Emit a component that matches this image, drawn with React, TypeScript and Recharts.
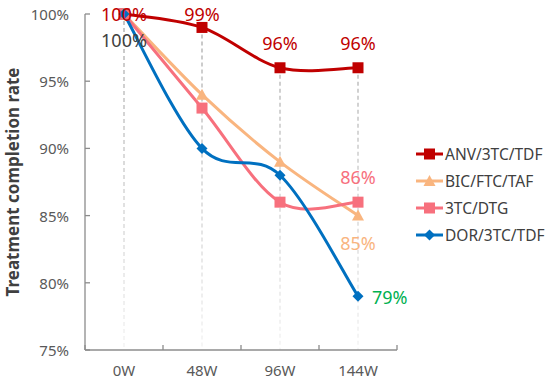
import React from 'react'
import { LineChart, Line, XAxis, YAxis, ReferenceLine, LabelList } from 'recharts'

const weeks = ['0W', '48W', '96W', '144W']
const anv = [100, 99, 96, 96]
const bic = [100, 94, 89, 85]
const dtg = [100, 93, 86, 86]
const dor = [100, 90, 88, 79]
const yTicks = [75, 80, 85, 90, 95, 100]
const xTicks = [-0.5, 0, 0.5, 1, 1.5, 2, 2.5, 3, 3.5]

const series = [
  { key: 'anv', name: 'ANV/3TC/TDF', color: '#c00000', shape: 'square' },
  { key: 'bic', name: 'BIC/FTC/TAF', color: '#f9b57f', shape: 'triangle' },
  { key: 'dtg', name: '3TC/DTG', color: '#f7707d', shape: 'square' },
  { key: 'dor', name: 'DOR/3TC/TDF', color: '#0070c0', shape: 'diamond' },
]

const data = weeks.map((week, i) => ({
  x: i,
  week,
  anv: anv[i],
  bic: bic[i],
  dtg: dtg[i],
  dor: dor[i],
}))

const font = '"Noto Sans", "Open Sans", sans-serif'
const textGray = '#595959'

// Excel-like smoothed line (Catmull-Rom as bezier)
const smoothCurve = (context: any) => {
  let pts: number[][] = []
  return {
    areaStart() {},
    areaEnd() {},
    lineStart() {
      pts = []
    },
    point(x: number, y: number) {
      pts.push([+x, +y])
    },
    lineEnd() {
      const n = pts.length
      if (!n) return
      context.moveTo(pts[0][0], pts[0][1])
      for (let i = 0; i < n - 1; i++) {
        const p0 = pts[Math.max(i - 1, 0)]
        const p1 = pts[i]
        const p2 = pts[i + 1]
        const p3 = pts[Math.min(i + 2, n - 1)]
        context.bezierCurveTo(
          p1[0] + (p2[0] - p0[0]) / 6,
          p1[1] + (p2[1] - p0[1]) / 6,
          p2[0] - (p3[0] - p1[0]) / 6,
          p2[1] - (p3[1] - p1[1]) / 6,
          p2[0],
          p2[1]
        )
      }
    },
  }
}

function Marker({ cx, cy, shape, color }: { cx: number; cy: number; shape: string; color: string }) {
  if (shape === 'square') {
    return <rect x={cx - 5.5} y={cy - 5.5} width={11} height={11} fill={color} />
  }
  if (shape === 'triangle') {
    return <polygon points={`${cx},${cy - 6} ${cx + 6},${cy + 5} ${cx - 6},${cy + 5}`} fill={color} />
  }
  return <polygon points={`${cx},${cy - 5.5} ${cx + 5.5},${cy} ${cx},${cy + 5.5} ${cx - 5.5},${cy}`} fill={color} />
}

const makeDot = (shape: string, color: string) => (p: any) => (
  <Marker key={`dot-${p.index}`} cx={p.cx} cy={p.cy} shape={shape} color={color} />
)

const XTick = (p: any) => {
  const v = p.payload.value
  if (Number.isInteger(v)) {
    return (
      <text x={p.x} y={p.y + 20} textAnchor="middle" dominantBaseline="central" fill={textGray} fontSize={15} fontFamily={font}>
        {weeks[v]}
      </text>
    )
  }
  return <line x1={p.x} x2={p.x} y1={p.y} y2={p.y - 5} stroke="#8c8c8c" strokeWidth={1.3} />
}

const YTick = (p: any) => (
  <g>
    <line x1={p.x} x2={p.x + 5} y1={p.y} y2={p.y} stroke="#8c8c8c" strokeWidth={1.3} />
    <text x={p.x - 16} y={p.y} textAnchor="end" dominantBaseline="central" fill={textGray} fontSize={15} fontFamily={font}>
      {p.payload.value}%
    </text>
  </g>
)

const pct = (v: number) => `${v}%`

const labelText = (x: number, y: number, v: number, color: string, anchor = 'middle') => (
  <text x={x} y={y} textAnchor={anchor} dominantBaseline="central" fill={color} fontSize={18} fontFamily={font}>
    {pct(v)}
  </text>
)

export default function App() {
  return (
    <div style={{ position: 'absolute', left: 0, top: 0, width: 554, height: 383, background: '#fff' }}>
      <LineChart width={554} height={383} data={data} margin={{ top: 14, right: 157, bottom: 0, left: 8 }}>
        <defs>
          <linearGradient id="dropGrad" gradientUnits="userSpaceOnUse" x1="0" y1="14" x2="0" y2="350">
            <stop offset="0%" stopColor="#a6a6a6" />
            <stop offset="100%" stopColor="#f2f2f2" />
          </linearGradient>
        </defs>
        <XAxis
          dataKey="x"
          type="number"
          domain={[-0.5, 3.5]}
          ticks={xTicks}
          interval={0}
          height={33}
          tickSize={0}
          tickMargin={0}
          tickLine={false}
          tick={<XTick />}
          axisLine={{ stroke: '#8c8c8c', strokeWidth: 1.3 }}
        />
        <YAxis
          type="number"
          domain={[75, 100]}
          ticks={yTicks}
          interval={0}
          width={77}
          tickSize={0}
          tickMargin={0}
          tickLine={false}
          tick={<YTick />}
          axisLine={{ stroke: '#8c8c8c', strokeWidth: 1.3 }}
          label={{
            content: (p: any) => {
              const vb = p.viewBox
              const cx = vb.x + 4
              const cy = vb.y + vb.height / 2
              return (
                <text
                  x={cx}
                  y={cy}
                  transform={`rotate(-90, ${cx}, ${cy})`}
                  textAnchor="middle"
                  dominantBaseline="central"
                  fill="#404040"
                  fontSize={17}
                  fontWeight="bold"
                  fontFamily={font}
                >
                  Treatment completion rate
                </text>
              )
            },
          }}
        />
        {data.map((d) => (
          <ReferenceLine
            key={`drop-${d.x}`}
            segment={[
              { x: d.x, y: d.anv },
              { x: d.x, y: 75 },
            ]}
            stroke="url(#dropGrad)"
            strokeWidth={1.3}
            strokeDasharray="4 3"
          />
        ))}
        <Line
          dataKey="anv"
          type={smoothCurve as any}
          stroke={series[0].color}
          strokeWidth={3}
          dot={makeDot('square', series[0].color)}
          activeDot={false}
          isAnimationActive={false}
        >
          <LabelList
            dataKey="anv"
            content={(p: any) => labelText(p.x, Math.max(p.y - 25, 14), p.value, '#c00000')}
          />
        </Line>
        <Line
          dataKey="bic"
          type={smoothCurve as any}
          stroke={series[1].color}
          strokeWidth={3}
          dot={makeDot('triangle', series[1].color)}
          activeDot={false}
          isAnimationActive={false}
        >
          <LabelList
            dataKey="bic"
            content={(p: any) =>
              p.index === 0
                ? labelText(p.x, p.y + 26, p.value, '#404040')
                : p.index === 3
                ? labelText(p.x, p.y + 27, p.value, '#f9b57f')
                : null
            }
          />
        </Line>
        <Line
          dataKey="dtg"
          type={smoothCurve as any}
          stroke={series[2].color}
          strokeWidth={3}
          dot={makeDot('square', series[2].color)}
          activeDot={false}
          isAnimationActive={false}
        >
          <LabelList
            dataKey="dtg"
            content={(p: any) => (p.index === 3 ? labelText(p.x, p.y - 25, p.value, '#f7707d') : null)}
          />
        </Line>
        <Line
          dataKey="dor"
          type={smoothCurve as any}
          stroke={series[3].color}
          strokeWidth={3}
          dot={makeDot('diamond', series[3].color)}
          activeDot={false}
          isAnimationActive={false}
        >
          <LabelList
            dataKey="dor"
            content={(p: any) => (p.index === 3 ? labelText(p.x + 14, p.y + 1, p.value, '#00b050', 'start') : null)}
          />
        </Line>
      </LineChart>
      <div style={{ position: 'absolute', left: 416, top: 140, fontFamily: font, fontSize: 15.5, color: '#404040' }}>
        {series.map((s) => (
          <div key={s.key} style={{ display: 'flex', alignItems: 'center', height: 27 }}>
            <svg width={27} height={14} style={{ marginRight: 2 }}>
              <line x1={0} x2={27} y1={7} y2={7} stroke={s.color} strokeWidth={3} />
              <Marker cx={13.5} cy={7} shape={s.shape} color={s.color} />
            </svg>
            <span>{s.name}</span>
          </div>
        ))}
      </div>
    </div>
  )
}
